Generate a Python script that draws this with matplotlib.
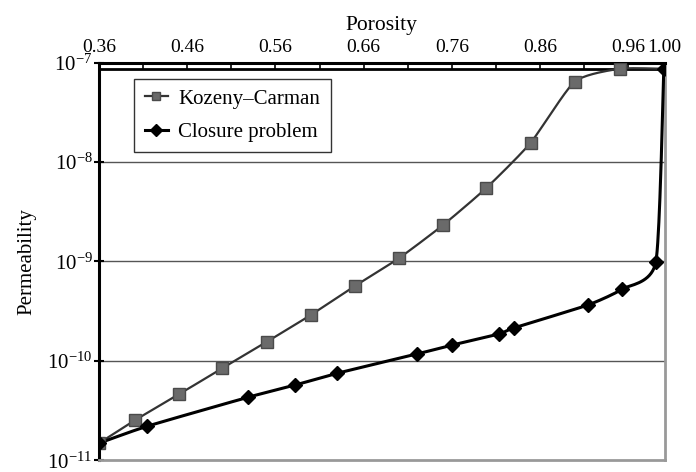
import numpy as np
import matplotlib
matplotlib.use("Agg")
import matplotlib.pyplot as plt
from matplotlib.ticker import FixedLocator, LogFormatterMathtext, NullLocator

plt.rcParams['font.family'] = ['Liberation Serif', 'DejaVu Serif']
plt.rcParams['mathtext.fontset'] = 'stix'

# data
kc_porosity = [0.36, 0.401, 0.451, 0.500, 0.550, 0.600, 0.650, 0.700, 0.750, 0.799, 0.849, 0.899, 0.950, 1.0]
kc_perm = [1.48e-11, 2.53e-11, 4.62e-11, 8.45e-11, 1.55e-10, 2.89e-10, 5.66e-10,
           1.08e-9, 2.33e-9, 5.5e-9, 1.56e-8, 6.45e-8, 8.7e-8, 8.7e-8]
cp_porosity = [0.36, 0.415, 0.529, 0.582, 0.630, 0.720, 0.760, 0.813, 0.830, 0.914, 0.953, 0.991, 1.0]
cp_perm = [1.48e-11, 2.2e-11, 4.3e-11, 5.7e-11, 7.5e-11, 1.17e-10, 1.44e-10,
           1.86e-10, 2.14e-10, 3.65e-10, 5.28e-10, 9.9e-10, 8.7e-8]
xticks = [0.36, 0.46, 0.56, 0.66, 0.76, 0.86, 0.96, 1.00]
xminor = [0.41, 0.51, 0.61, 0.71, 0.81, 0.91]


def smooth(x, y, n=20):
    # catmull-rom through the points in (x, log y), like excel's smoothed line
    x = np.asarray(x); ly = np.log10(y)
    px = np.r_[x[0], x, x[-1]]; py = np.r_[ly[0], ly, ly[-1]]
    xs, ys = [], []
    t = np.linspace(0, 1, n)
    for i in range(1, len(px) - 2):
        for arr, out in ((px, xs), (py, ys)):
            p0, p1, p2, p3 = arr[i-1], arr[i], arr[i+1], arr[i+2]
            m1 = (p2 - p0) / 2 * 0.6
            m2 = (p3 - p1) / 2 * 0.6
            h00 = 2*t**3 - 3*t**2 + 1; h10 = t**3 - 2*t**2 + t
            h01 = -2*t**3 + 3*t**2; h11 = t**3 - t**2
            out.extend(h00*p1 + h10*m1 + h01*p2 + h11*m2)
    return np.array(xs), 10**np.array(ys)


fig = plt.figure(figsize=(6.96, 4.72), dpi=100)
ax = fig.add_axes([0.142, 0.025, 0.813, 0.842])

for y in [1e-8, 1e-9, 1e-10]:
    ax.axhline(y, color='#555555', lw=1.0, zorder=1)
ax.axhline(8.7e-8, color='black', lw=2, zorder=2)

sx, sy = smooth(kc_porosity, kc_perm)
ax.plot(sx, sy, color='#333333', lw=1.6, zorder=3)
ax.plot(kc_porosity[:-1], kc_perm[:-1], ls='none', marker='s', ms=8, color='#6a6a6a',
        mec='#4a4a4a', zorder=4)
sx, sy = smooth(cp_porosity, cp_perm)
ax.plot(sx, sy, color='black', lw=2.2, zorder=3)
ax.plot(cp_porosity, cp_perm, ls='none', marker='D', ms=7, color='black', zorder=5)

ax.plot([], [], color='#333333', lw=1.6, marker='s', ms=6, mfc='#6a6a6a', mec='#4a4a4a',
        label='Kozeny\u2013Carman')
ax.plot([], [], color='black', lw=2.2, marker='D', ms=6, label='Closure problem')

ax.set_yscale('log')
ax.set_xlim(0.36, 1.001)
ax.set_ylim(1e-11, 1e-7)
ax.yaxis.set_major_locator(FixedLocator([1e-11, 1e-10, 1e-9, 1e-8, 1e-7]))
ax.yaxis.set_major_formatter(LogFormatterMathtext())
ax.yaxis.set_minor_locator(NullLocator())
ax.tick_params(axis='y', length=7, width=1.5, labelsize=15, pad=1, direction='inout')

ax.xaxis.tick_top()
ax.xaxis.set_label_position('top')
ax.set_xticks(xticks)
ax.set_xticklabels(['%.2f' % v for v in xticks])
ax.set_xticks(xminor, minor=True)
ax.tick_params(axis='x', which='both', length=4, width=1.2, labelsize=14, pad=5, direction='in')
ax.set_xlabel('Porosity', fontsize=15.5, labelpad=6)
ax.set_ylabel('Permeability', fontsize=15, labelpad=8)

ax.spines['top'].set_linewidth(2.2)
ax.spines['left'].set_linewidth(2.2)
ax.spines['right'].set_color('#999999')
ax.spines['right'].set_linewidth(2)
ax.spines['bottom'].set_color('#999999')
ax.spines['bottom'].set_linewidth(2)

leg = ax.legend(loc='upper left', bbox_to_anchor=(0.063, 0.96), fontsize=15, frameon=True,
                fancybox=False, edgecolor='black', handlelength=1.1, handletextpad=0.5,
                borderpad=0.5, labelspacing=0.65, borderaxespad=0)
leg.get_frame().set_linewidth(1.0)

fig.savefig('out.png', dpi=100)
